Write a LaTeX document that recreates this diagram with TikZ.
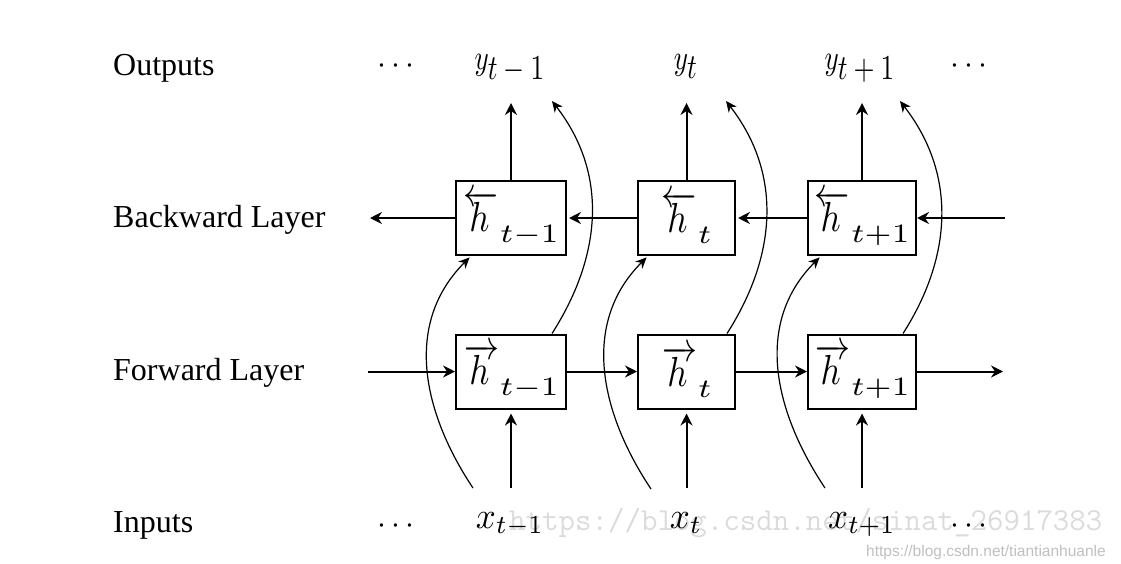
\documentclass[tikz,border=0pt]{standalone}
\usepackage{graphicx}
\usepackage{fontspec}
\setmainfont{Liberation Serif}
\newfontfamily\wmsans{Liberation Sans}
\usetikzlibrary{arrows.meta}
\newcommand{\mscale}[3]{\scalebox{#1}[#2]{#3}}
% h label: #1 = \overleftarrow or \overrightarrow, #2 = subscript
\newcommand{\hlab}[2]{\mscale{3.5}{4.2}{$#1{\mkern3mu h\mkern5mu}$}\kern1pt\raisebox{-11pt}{\mscale{4.4}{3.8}{$\scriptstyle #2$}}}
\begin{document}
\begin{tikzpicture}[x=1pt,y=-1pt,
  lbl/.style={anchor=base west, font=\fontsize{32}{38}\selectfont, inner sep=0pt},
  outlbl/.style={anchor=base, inner sep=0pt},
  inlbl/.style={anchor=base, inner sep=0pt},
  dotlbl/.style={anchor=base, inner sep=0pt},
  cell/.style={draw, line width=2pt, minimum height=74pt, inner sep=0pt},
  conn/.style={line width=2pt, -{Stealth[length=12pt,width=12pt,inset=4pt]}},
  skip/.style={line width=1.2pt, -{Stealth[length=11pt,width=10pt,inset=3.5pt]}},
]
\useasboundingbox (0,0) rectangle (1121,563);

% watermarks
\node[anchor=base west, inner sep=0pt, text=black!14, font=\ttfamily\fontsize{32}{34}\selectfont] (wm1) at (509,530) {https://blog.csdn.net/sinat\_26917383};
\node[anchor=base west, inner sep=0pt, text=black!25, font=\wmsans\fontsize{15.5}{17}\selectfont] (wm2) at (866,556) {https://blog.csdn.net/tiantianhuanle};

% row labels
\node[lbl] (lo) at (113,75) {Outputs};
\node[lbl] (lb) at (113,227) {Backward Layer};
\node[lbl] (lf) at (113,380) {Forward Layer};
\node[lbl] (li) at (113,532) {Inputs};

% outputs
\node[dotlbl] (odl) at (396,73) {\mscale{3.2}{3.2}{$\cdots$}};
\node[outlbl] (y1) at (510,69) {\mscale{2.7}{3.5}{$y_{\textstyle t-1}$}};
\node[outlbl] (y2) at (686,69) {\mscale{2.7}{3.5}{$y_{\textstyle t}$}};
\node[outlbl] (y3) at (860,69) {\mscale{2.7}{3.5}{$y_{\textstyle t+1}$}};
\node[dotlbl] (odr) at (969,73) {\mscale{3.2}{3.2}{$\cdots$}};

% inputs
\node[dotlbl] (idl) at (396,533) {\mscale{3.2}{3.2}{$\cdots$}};
\node[inlbl] (x1) at (510,528) {\mscale{3.5}{3.7}{$x_{t-1}$}};
\node[inlbl] (x2) at (686,528) {\mscale{3.5}{3.7}{$x_{t}$}};
\node[inlbl] (x3) at (862,528) {\mscale{3.5}{3.7}{$x_{t+1}$}};
\node[dotlbl] (idr) at (969,533) {\mscale{3.2}{3.2}{$\cdots$}};

% backward cells
\node[cell, minimum width=110pt] (b1) at (511,218) {\hlab{\overleftarrow}{t-1}};
\node[cell, minimum width=97pt] (b2) at (686.5,218) {\hlab{\overleftarrow}{t}};
\node[cell, minimum width=108pt] (b3) at (862,218) {\hlab{\overleftarrow}{t+1}};
% forward cells
\node[cell, minimum width=110pt] (f1) at (511,371.5) {\hlab{\overrightarrow}{t-1}};
\node[cell, minimum width=97pt] (f2) at (686.5,371.5) {\hlab{\overrightarrow}{t}};
\node[cell, minimum width=108pt] (f3) at (862,371.5) {\hlab{\overrightarrow}{t+1}};

% free ends
\coordinate (bin) at (1005,218);
\coordinate (bout) at (370,218);
\coordinate (fin) at (368,371.5);
\coordinate (fout) at (1003,371.5);
\coordinate (o1) at (511,103);
\coordinate (o2) at (686.5,103);
\coordinate (o3) at (862,103);
\coordinate (i1) at (511,488);
\coordinate (i2) at (686.5,488);
\coordinate (i3) at (862,488);
\coordinate (s1) at (473,488);
\coordinate (s2) at (651,489);
\coordinate (s3) at (825,488);
\coordinate (u1) at (552,101);
\coordinate (u2) at (726,101);
\coordinate (u3) at (900,101);

% backward layer
\draw[conn] (bin) -- (b3.east);
\draw[conn, shorten >=2pt] (b3.west) -- (b2.east);
\draw[conn, shorten >=2pt] (b2.west) -- (b1.east);
\draw[conn] (b1.west) -- (bout);
% forward layer
\draw[conn] (fin) -- (f1.west);
\draw[conn] (f1.east) -- (f2.west);
\draw[conn] (f2.east) -- (f3.west);
\draw[conn] (f3.east) -- (fout);
% outputs
\draw[conn] (b1.north) -- (o1);
\draw[conn] (b2.north) -- (o2);
\draw[conn] (b3.north) -- (o3);
% inputs
\draw[conn, shorten >=4pt] (i1) -- (f1.south);
\draw[conn, shorten >=4pt] (i2) -- (f2.south);
\draw[conn, shorten >=4pt] (i3) -- (f3.south);
% inputs to backward layer
\draw[skip, shorten >=2pt] (s1) .. controls +(-50,-75) and +(-68,68) .. ([xshift=16pt]b1.south west);
\draw[skip, shorten >=2pt] (s2) .. controls +(-50,-75) and +(-68,68) .. ([xshift=11pt]b2.south west);
\draw[skip, shorten >=2pt] (s3) .. controls +(-50,-75) and +(-68,68) .. ([xshift=14pt]b3.south west);
% forward layer to outputs
\draw[skip] ([xshift=-15pt]f1.north east) .. controls +(48,-75) and +(58,75) .. (u1);
\draw[skip] ([xshift=-9pt]f2.north east) .. controls +(48,-75) and +(58,75) .. (u2);
\draw[skip] ([xshift=-14pt]f3.north east) .. controls +(48,-75) and +(58,75) .. (u3);
\end{tikzpicture}
\end{document}
